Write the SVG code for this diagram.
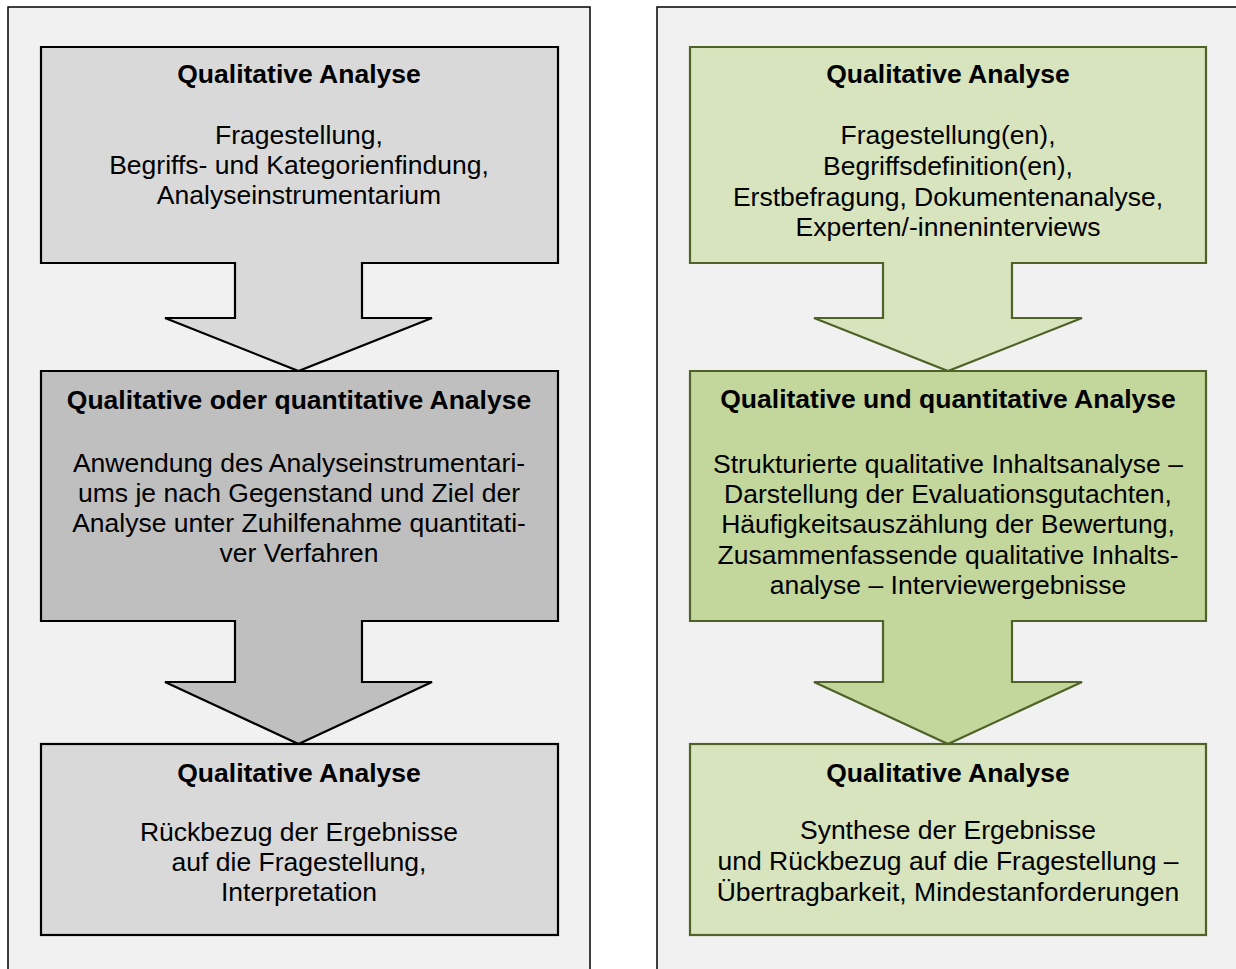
<svg xmlns="http://www.w3.org/2000/svg" width="1236" height="969" viewBox="0 0 1236 969">
<style>
.panel{fill:#f1f1f1;stroke:#000;stroke-width:1.5}
.g1{fill:#d9d9d9;stroke:#000;stroke-width:2.2;stroke-linejoin:miter}
.g2{fill:#bfbfbf;stroke:#000;stroke-width:2.2}
.v1{fill:#d7e4bd;stroke:#4f6228;stroke-width:2.2}
.v2{fill:#c3d69b;stroke:#4f6228;stroke-width:2.2}
text{font-family:"Liberation Sans",Arial,sans-serif;font-size:26.5px;fill:#000;text-anchor:middle}
.t{font-weight:bold}
</style>
<rect class="panel" x="8" y="7" width="582" height="990"/>
<rect class="panel" x="657" y="7" width="600" height="990"/>
<g id="left1">
<path class="g1" d="M41,47H558V263H362V318H432L298.5,371L165,318H235V263H41Z"/>
<text class="t" x="299" y="83">Qualitative Analyse</text>
<text x="299" y="144">Fragestellung,</text>
<text x="299" y="174">Begriffs- und Kategorienfindung,</text>
<text x="299" y="204">Analyseinstrumentarium</text>
</g>
<g id="left2">
<path class="g2" d="M41,371H558V621H362V682H432L298.5,744L165,682H235V621H41Z"/>
<text class="t" x="299" y="409">Qualitative oder quantitative Analyse</text>
<text x="299" y="472">Anwendung des Analyseinstrumentari-</text>
<text x="299" y="502">ums je nach Gegenstand und Ziel der</text>
<text x="299" y="532">Analyse unter Zuhilfenahme quantitati-</text>
<text x="299" y="562">ver Verfahren</text>
</g>
<g id="left3">
<rect class="g1" x="41" y="744" width="517" height="191"/>
<text class="t" x="299" y="782">Qualitative Analyse</text>
<text x="299" y="841">Rückbezug der Ergebnisse</text>
<text x="299" y="871">auf die Fragestellung,</text>
<text x="299" y="901">Interpretation</text>
</g>
<g id="right1">
<path class="v1" d="M690,47H1206V263H1012V318H1082L948,371L814,318H883V263H690Z"/>
<text class="t" x="948" y="83">Qualitative Analyse</text>
<text x="948" y="144">Fragestellung(en),</text>
<text x="948" y="175">Begriffsdefinition(en),</text>
<text x="948" y="206">Erstbefragung, Dokumentenanalyse,</text>
<text x="948" y="236">Experten/-inneninterviews</text>
</g>
<g id="right2">
<path class="v2" d="M690,371H1206V621H1012V682H1082L948,744L814,682H883V621H690Z"/>
<text class="t" x="948" y="408">Qualitative und quantitative Analyse</text>
<text x="948" y="473">Strukturierte qualitative Inhaltsanalyse –</text>
<text x="948" y="503">Darstellung der Evaluationsgutachten,</text>
<text x="948" y="533">Häufigkeitsauszählung der Bewertung,</text>
<text x="948" y="564">Zusammenfassende qualitative Inhalts-</text>
<text x="948" y="594">analyse – Interviewergebnisse</text>
</g>
<g id="right3">
<rect class="v1" x="690" y="744" width="516" height="191"/>
<text class="t" x="948" y="782">Qualitative Analyse</text>
<text x="948" y="839">Synthese der Ergebnisse</text>
<text x="948" y="870">und Rückbezug auf die Fragestellung –</text>
<text x="948" y="901">Übertragbarkeit, Mindestanforderungen</text>
</g>
<g id="connectors"/>
</svg>
